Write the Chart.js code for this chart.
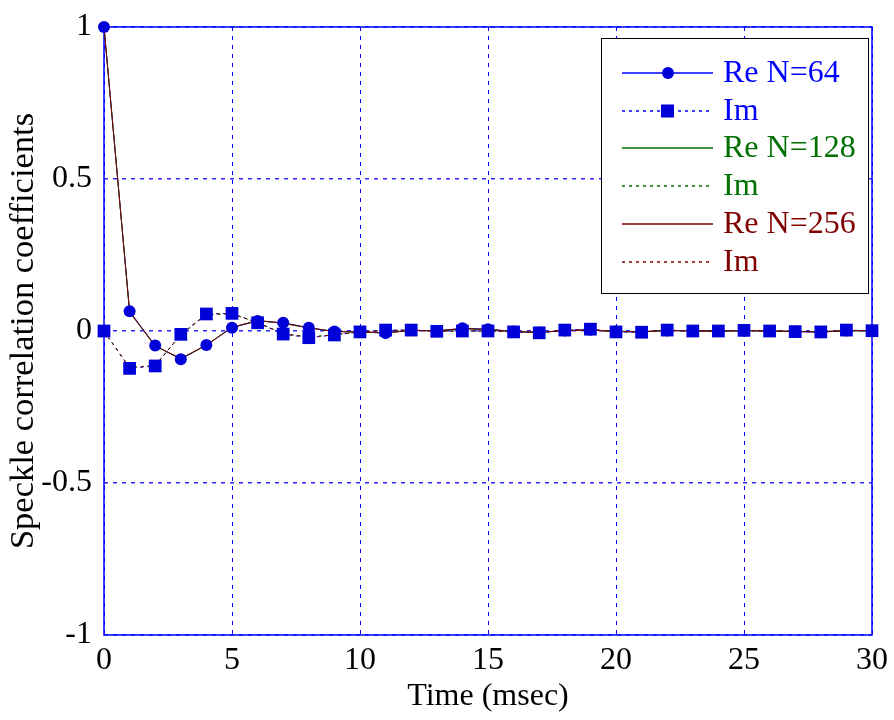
<!DOCTYPE html>
<html><head><meta charset="utf-8">
<script src="https://cdn.jsdelivr.net/npm/chart.js@4/dist/chart.umd.min.js"></script>
<style>html,body{margin:0;padding:0;background:#fff}#wrap{width:894px;height:720px;position:relative}</style>
</head><body><div id="wrap"><canvas id="c" width="894" height="720"></canvas></div>
<script>
const timeMs = [0,1,2,3,4,5,6,7,8,9,10,11,12,13,14,15,16,17,18,19,20,21,22,23,24,25,26,27,28,29,30];
const xTickValues = [0,5,10,15,20,25,30];
const yTickValues = [-1,-0.5,0,0.5,1];
const seriesLabels = ['Re N=64','Im','Re N=128','Im','Re N=256','Im'];

const re64  = [1, 0.065, -0.048, -0.093, -0.046, 0.011, 0.033, 0.027, 0.011, -0.002, -0.003, -0.007, 0.003, 0.000, 0.009, 0.006, -0.002, -0.005, 0.002, 0.004, -0.002, -0.003, 0.002, 0.000, 0.000, 0.002, 0.000, -0.002, -0.004, 0.002, 0.001];
const im64  = [0, -0.123, -0.115, -0.011, 0.056, 0.058, 0.027, -0.010, -0.022, -0.013, -0.003, 0.003, 0.003, -0.001, 0.000, 0.000, -0.003, -0.006, 0.003, 0.006, -0.003, -0.004, 0.003, 0.000, 0.000, 0.002, 0.000, -0.002, -0.003, 0.003, 0.001];
const re128 = [1, 0.062, -0.050, -0.090, -0.047, 0.012, 0.035, 0.025, 0.010, -0.001, -0.004, -0.006, 0.002, 0.001, 0.007, 0.005, -0.001, -0.004, 0.001, 0.003, -0.001, -0.002, 0.002, 0.001, -0.001, 0.001, 0.001, -0.001, -0.003, 0.001, 0.000];
const im128 = [0, -0.120, -0.113, -0.013, 0.054, 0.056, 0.028, -0.008, -0.020, -0.012, -0.004, 0.002, 0.002, 0.000, 0.001, -0.001, -0.002, -0.005, 0.002, 0.005, -0.002, -0.003, 0.002, 0.001, 0.000, 0.001, 0.000, -0.001, -0.002, 0.002, 0.000];
const re256 = [1, 0.063, -0.049, -0.091, -0.046, 0.012, 0.034, 0.026, 0.010, -0.002, -0.003, -0.006, 0.002, 0.000, 0.008, 0.005, -0.002, -0.004, 0.001, 0.003, -0.002, -0.002, 0.001, 0.000, 0.000, 0.001, 0.000, -0.002, -0.003, 0.001, 0.001];
const im256 = [0, -0.121, -0.114, -0.012, 0.055, 0.057, 0.027, -0.009, -0.021, -0.012, -0.003, 0.002, 0.003, -0.001, 0.000, 0.000, -0.002, -0.005, 0.002, 0.005, -0.002, -0.003, 0.002, 0.000, 0.000, 0.001, 0.000, -0.001, -0.003, 0.002, 0.001];

const BLUE = '#0000ff', MARK = '#0000d8', GREEN = '#007000', RED = '#800000';
const FONT = 'Liberation Serif, Times New Roman, serif';
const pts = arr => timeMs.map((t, i) => ({x: t, y: arr[i]}));

const datasets = [
  {label: seriesLabels[0], data: pts(re64), borderColor: BLUE, borderWidth: 1, pointRadius: 0, order: 5,
   legendMarker: 'circle'},
  {label: seriesLabels[1], data: pts(im64), borderColor: BLUE, borderWidth: 1, borderDash: [3,4], pointRadius: 0, order: 5,
   legendMarker: 'rect'},
  {label: seriesLabels[2], data: pts(re128), borderColor: GREEN, borderWidth: 1, pointRadius: 0, order: 4},
  {label: seriesLabels[3], data: pts(im128), borderColor: GREEN, borderWidth: 1, borderDash: [3,4], pointRadius: 0, order: 4},
  {label: seriesLabels[4], data: pts(re256), borderColor: RED, borderWidth: 1, pointRadius: 0, order: 3},
  {label: seriesLabels[5], data: pts(im256), borderColor: RED, borderWidth: 1, borderDash: [3,4], pointRadius: 0, order: 3},
  {label: 'markers Re', data: pts(re64), showLine: false, pointStyle: 'circle', pointRadius: 6, pointBorderWidth: 0,
   pointBackgroundColor: MARK, order: 1, noLegend: true, clip: false},
  {label: 'markers Im', data: pts(im64), showLine: false, pointStyle: 'rect', pointRadius: 9, pointBorderWidth: 0,
   pointBackgroundColor: MARK, order: 0, noLegend: true, clip: false}
];

const framePlugin = {
  id: 'frame',
  beforeDatasetsDraw(chart) {
    const {ctx, chartArea: a} = chart;
    ctx.save();
    ctx.strokeStyle = '#0000ff';
    ctx.lineWidth = 1.5;
    ctx.setLineDash([]);
    ctx.strokeRect(a.left, a.top, a.right - a.left, a.bottom - a.top);
    ctx.restore();
  }
};

const boxLegend = {
  id: 'boxLegend',
  afterDatasetsDraw(chart) {
    const {ctx} = chart;
    const x0 = 601, y0 = 38, x1 = 868, y1 = 293;
    ctx.save();
    ctx.fillStyle = '#fff';
    ctx.fillRect(x0, y0, x1 - x0, y1 - y0);
    ctx.strokeStyle = '#000';
    ctx.lineWidth = 1;
    ctx.strokeRect(x0 + 0.5, y0 + 0.5, x1 - x0, y1 - y0);
    const rowY0 = 73, rowStep = 37.7;
    chart.data.datasets.filter(ds => !ds.noLegend).forEach((ds, i) => {
      const y = Math.round(rowY0 + i * rowStep);
      ctx.strokeStyle = ds.borderColor;
      ctx.lineWidth = 1.3;
      ctx.setLineDash(ds.borderDash || []);
      ctx.beginPath(); ctx.moveTo(622, y); ctx.lineTo(713, y); ctx.stroke();
      ctx.setLineDash([]);
      if (ds.legendMarker) {
        ctx.fillStyle = MARK;
        if (ds.legendMarker === 'circle') {
          ctx.beginPath(); ctx.arc(668, y, 6, 0, Math.PI * 2); ctx.fill();
        } else {
          ctx.fillRect(661, y - 6.5, 13, 13);
        }
      }
      ctx.fillStyle = ds.borderColor;
      ctx.font = '32px ' + FONT;
      ctx.textBaseline = 'middle';
      ctx.textAlign = 'left';
      ctx.fillText(ds.label, 723, y + 1);
    });
    ctx.restore();
  }
};

new Chart(document.getElementById('c'), {
  type: 'line',
  data: {datasets},
  options: {
    responsive: false,
    devicePixelRatio: 1,
    animation: false,
    layout: {padding: {top: 27, right: 22, left: 0, bottom: 0}},
    plugins: {legend: {display: false}, tooltip: {enabled: false}},
    scales: {
      x: {
        type: 'linear', min: 0, max: 30,
        afterBuildTicks: s => { s.ticks = xTickValues.map(v => ({value: v})); },
        afterFit: s => { s.height = 85; s.paddingLeft = 0; s.paddingRight = 0; },
        grid: {color: '#0000ff', lineWidth: 1, drawTicks: false},
        border: {display: false, dash: [4,5]},
        ticks: {color: '#000', font: {family: FONT, size: 32}, padding: 6, maxRotation: 0, autoSkip: false,
                callback: v => String(v)},
        title: {display: true, text: 'Time (msec)', color: '#000', font: {family: FONT, size: 32}, padding: {top: 0, bottom: 4}}
      },
      y: {
        type: 'linear', min: -1, max: 1,
        afterBuildTicks: s => { s.ticks = yTickValues.map(v => ({value: v})); },
        afterFit: s => { s.width = 104; s.paddingTop = 0; s.paddingBottom = 0; },
        grid: {color: '#2a2aff', lineWidth: 1.5, drawTicks: false},
        border: {display: false, dash: [4,5]},
        ticks: {color: '#000', font: {family: FONT, size: 32}, padding: 12, autoSkip: false,
                callback: v => String(v)},
        title: {display: true, text: 'Speckle correlation coefficients', color: '#000', font: {family: FONT, size: 34.5}, padding: {top: 3, bottom: 0}}
      }
    }
  },
  plugins: [framePlugin, boxLegend]
});
</script></body></html>
